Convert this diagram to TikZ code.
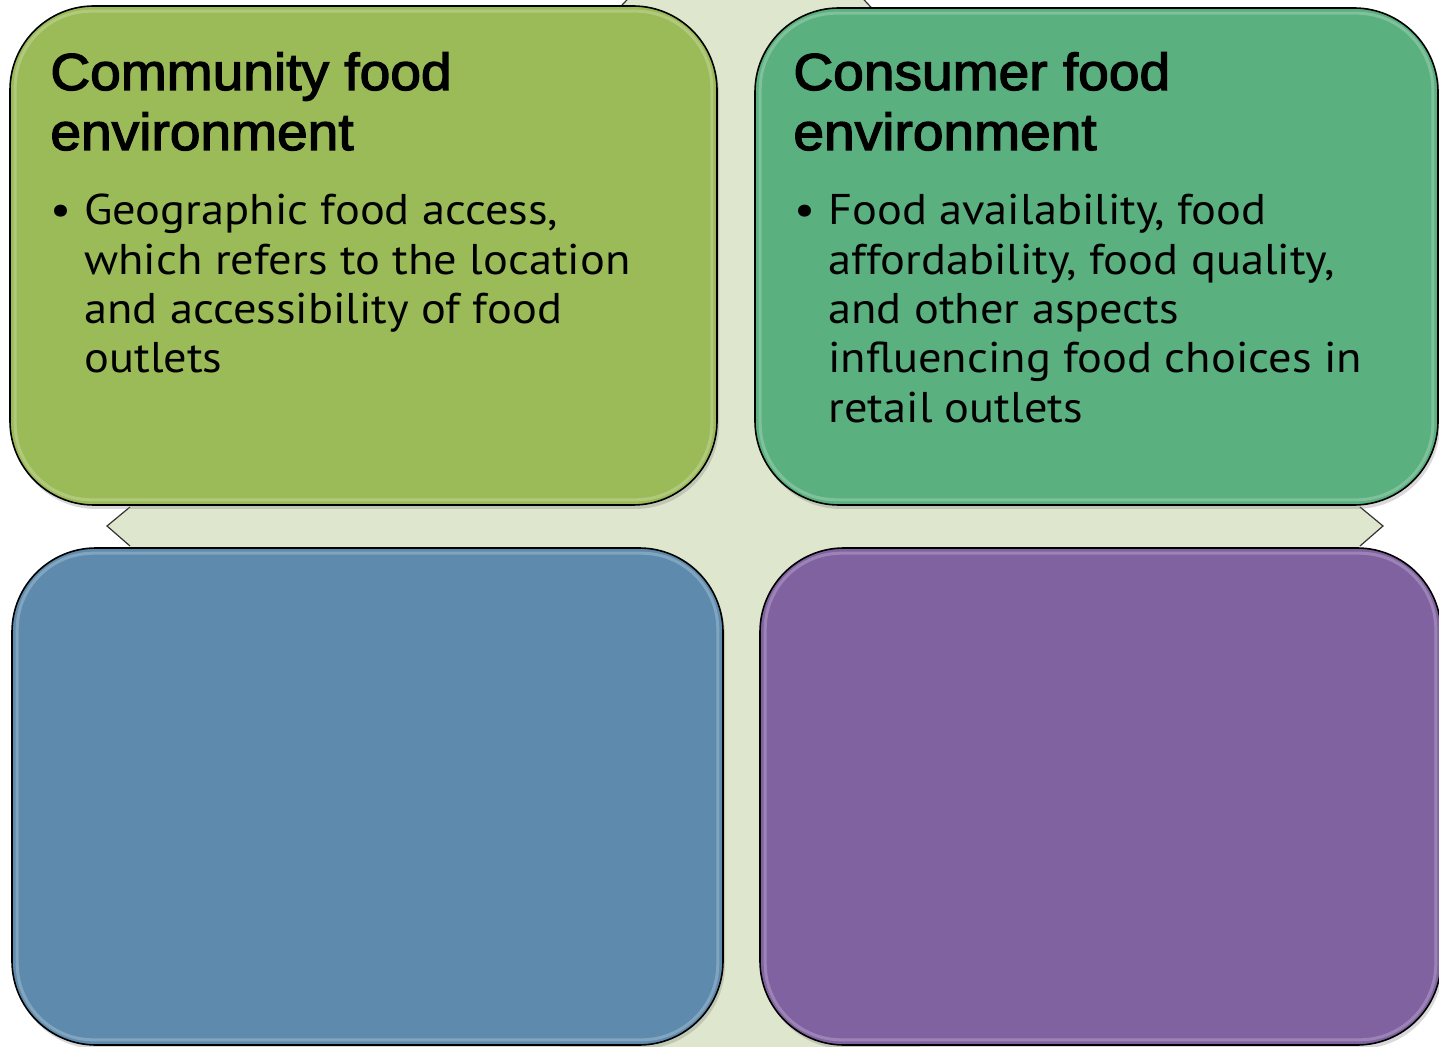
\documentclass[tikz,border=0pt]{standalone}
\usepackage{fontspec}
\setmainfont{Liberation Sans}
\newfontfamily\headfont{Liberation Sans}[FakeStretch=1.06, FakeBold=2.5]
\newfontfamily\bodyfont{PT Sans}[FakeStretch=1.08]
\usetikzlibrary{shapes,shadows,calc,positioning}

\definecolor{bgarrow}{RGB}{222,231,205}
\definecolor{commgreen}{RGB}{155,187,89}
\definecolor{consgreen}{RGB}{91,176,127}
\definecolor{lowblue}{RGB}{94,139,173}
\definecolor{lowpurple}{RGB}{128,98,161}

\begin{document}
\begin{tikzpicture}[x=0.5pt, y=-0.5pt]
    \tikzstyle{quadbox}=[rectangle, rounded corners=42pt,
                % The border:
                draw=black, line width=0.8pt,
                % The shadow:
                drop shadow={shadow xshift=1pt, shadow yshift=-2pt, opacity=0.3}]
    \tikzstyle{titletext}=[anchor=base west, inner sep=0pt,
                font=\headfont\fontsize{26}{30}\selectfont]
    \tikzstyle{bodytext}=[anchor=base west, inner sep=0pt,
                font=\bodyfont\fontsize{21.5}{24.65}\selectfont]
    \tikzstyle{bulletdot}=[anchor=base east, inner sep=0pt,
                font=\bodyfont\fontsize{21.5}{24.65}\selectfont]

    \useasboundingbox (0,0) rectangle (1439,1047);

    % background arrows
    \fill[bgarrow]
        (638,-12) -- (853,-12) -- (881,18) -- (1360,20) -- (1360,507)
        -- (1383,526) -- (1360,546) -- (1360,1020) -- (920,1030) -- (920,1070)
        -- (560,1070) -- (560,1030) -- (130,1020) -- (130,546) -- (107,526)
        -- (130,507) -- (130,20) -- (610,18) -- cycle;
    \draw[black!80, line width=0.6pt] (610,18) -- (638,-12);
    \draw[black!80, line width=0.6pt] (853,-12) -- (881,18);
    \draw[black!80, line width=0.6pt] (130,507) -- (107,526) -- (130,546);
    \draw[black!80, line width=0.6pt] (1360,507) -- (1383,526) -- (1360,546);

    % the four quadrants
    \node[quadbox, fill=commgreen, minimum width=353.5pt, minimum height=249.5pt]
        (commbox) at (363.5,255.5) {};
    \node[quadbox, fill=consgreen, minimum width=341.5pt, minimum height=248.5pt]
        (consbox) at (1096.5,256.5) {};
    \node[quadbox, fill=lowblue, minimum width=355.5pt, minimum height=248.5pt]
        (bluebox) at (367.5,796.5) {};
    \node[quadbox, fill=lowpurple, minimum width=340.5pt, minimum height=248.5pt]
        (purplebox) at (1100.5,796.5) {};

    % glossy rim
    \foreach \q in {commbox,consbox,bluebox,purplebox}
        \draw[white, opacity=0.22, line width=1.5pt, rounded corners=38pt]
            ($(\q.north west)+(6,6)$) rectangle ($(\q.south east)+(-6,-6)$);

    % texts
    \node[titletext] (commtitle) at (50,90)
        {\parbox[t]{340pt}{Community food\\environment}};
    \node[bodytext] (commtext) at (84,225)
        {\parbox[t]{320pt}{Geographic food access,\\which refers to the location\\and accessibility of food\\outlets}};
    \node[bulletdot] (commdot) at ([xshift=-6pt]commtext.base west) {•};

    \node[titletext] (constitle) at (793,90)
        {\parbox[t]{320pt}{Consumer food\\environment}};
    \node[bodytext] (constext) at (828,225)
        {\parbox[t]{310pt}{Food availability, food\\affordability, food quality,\\and other aspects\\influencing food choices in\\retail outlets}};
    \node[bulletdot] (consdot) at ([xshift=-6pt]constext.base west) {•};
\end{tikzpicture}
\end{document}
